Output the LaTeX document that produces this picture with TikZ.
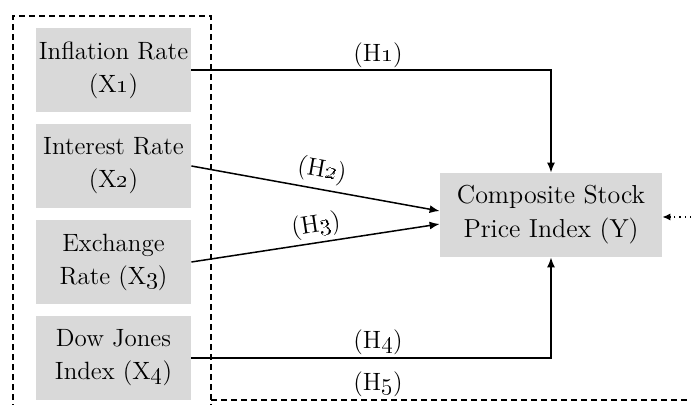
\documentclass[tikz,border=0pt]{standalone}
\usetikzlibrary{arrows.meta}
\begin{document}
\begin{tikzpicture}[x=0.5pt,y=-0.5pt,
  box/.style={fill=black!15,draw=none,minimum width=77.5pt,minimum height=42pt,align=center,inner sep=0pt,font=\fontsize{12.5}{16.5}\selectfont},
  conn/.style={line width=0.75pt,-{Latex[length=5pt,width=4pt]}},
  lab/.style={font=\fontsize{12.5}{15}\selectfont,inner sep=0pt},
  frame/.style={line width=0.6pt,dash pattern=on 3pt off 2pt}]
\useasboundingbox (0,0) rectangle (691,405);
\begin{scope}
\clip (0,0) rectangle (691,405);
\draw[frame] (13,410) -- (13,16) -- (211,16) -- (211,410);
\coordinate (fr) at (691,400);
\draw[frame] (211,400) -- (fr);
\end{scope}
\node[box] (x1) at (113.5,70) {Inflation Rate\\(X\oldstylenums{1})};
\node[box] (x2) at (113.5,166) {Interest Rate\\(X\oldstylenums{2})};
\node[box] (x3) at (113.5,262) {Exchange\\Rate (X\oldstylenums{3})};
\node[box] (x4) at (113.5,358) {Dow Jones\\Index (X\oldstylenums{4})};
\node[box,minimum width=111pt,font=\fontsize{13}{17}\selectfont] (y) at (551,215) {Composite Stock\\Price Index (Y)};
\coordinate (dotstart) at (691,217);
\draw[conn] (x1.east) -| (y.north);
\draw[conn] (x4.east) -| (y.south);
\draw[conn] (x2.east) -- ([yshift=2pt]y.west);
\draw[conn] (x3.east) -- ([yshift=-4.5pt]y.west);
\draw[line width=0.6pt,dotted,-{Latex[length=4pt,width=3.5pt]}] (dotstart) -- ([yshift=-1pt]y.east);
\node[lab] (h1) at (378,55) {(H\oldstylenums{1})};
\node[lab,rotate=-10] (h2) at (322,171) {(H\oldstylenums{2})};
\node[lab,rotate=8.7] (h3) at (316,226) {(H\oldstylenums{3})};
\node[lab] (h4) at (378,342) {(H\oldstylenums{4})};
\node[lab] (h5) at (378,384) {(H\oldstylenums{5})};
\end{tikzpicture}
\end{document}
